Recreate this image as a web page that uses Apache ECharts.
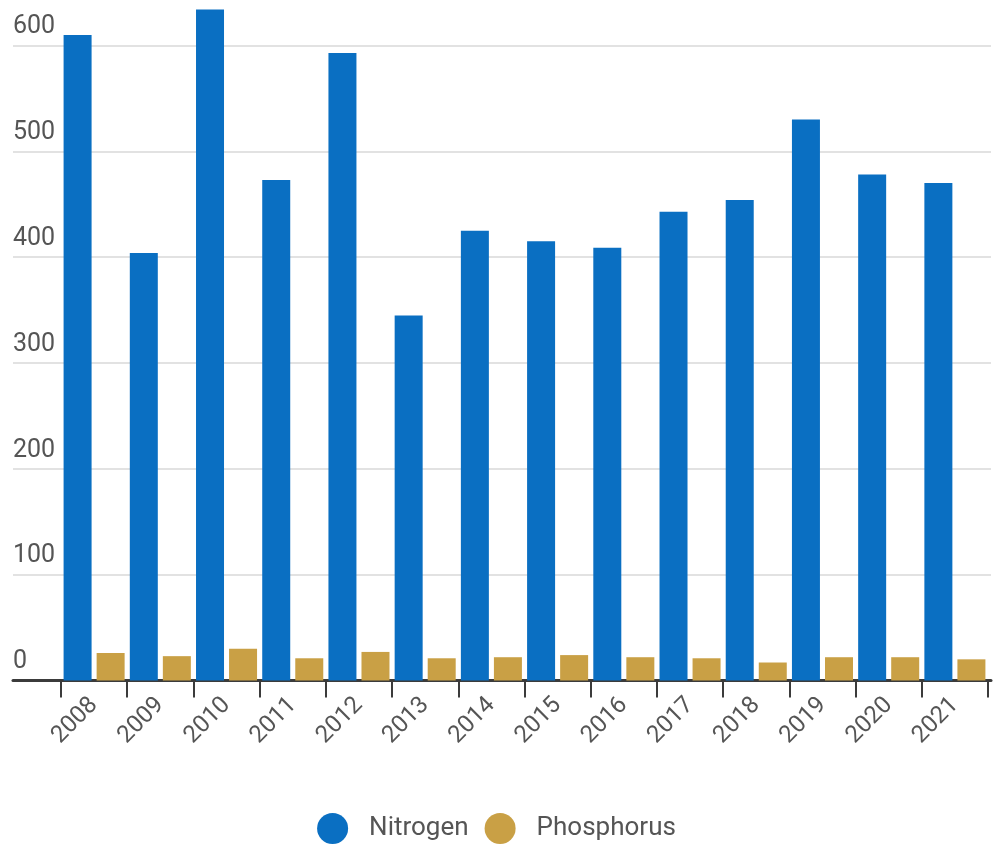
<!DOCTYPE html>
<html>
<head>
<meta charset="utf-8">
<script src="https://cdn.jsdelivr.net/npm/echarts@6/dist/echarts.min.js"></script>
<style>
  html, body { margin: 0; padding: 0; background: #ffffff; }
  #chart { width: 993px; height: 844px; }
</style>
</head>
<body>
<div id="chart"></div>
<script>
// Annual loads by year
const years = ['2008', '2009', '2010', '2011', '2012', '2013', '2014',
               '2015', '2016', '2017', '2018', '2019', '2020', '2021'];
const nitrogen = [610, 404, 634, 473, 593, 345, 425, 415, 409, 443, 454, 530, 478, 470];
const phosphorus = [26, 23, 30, 21, 27, 21, 22, 24, 22, 21, 17, 22, 22, 20];
const seriesNames = ['Nitrogen', 'Phosphorus'];
const yTicks = { min: 0, max: 600, interval: 100 };

const colors = ['#0a6fc2', '#c9a045'];
const axisDark = '#3b3b3b';
const textGray = '#555555';
const fontFamily = 'Roboto, "Noto Sans", sans-serif';

const chart = echarts.init(document.getElementById('chart'), null, { renderer: 'canvas' });

const plotTop = 45.5;
const plotBottom = 163.5;

chart.setOption({
  animation: false,
  backgroundColor: '#ffffff',
  textStyle: { fontFamily: fontFamily },
  grid: [
    // full-width frame: gridlines, value labels and the baseline
    { left: 13, right: 2, top: plotTop, bottom: plotBottom, containLabel: false },
    // bar area
    { left: 61, right: 5, top: plotTop, bottom: plotBottom, containLabel: false }
  ],
  xAxis: [
    {
      type: 'value', gridIndex: 0, min: 0, max: 1,
      axisLine: { show: true, onZero: false, lineStyle: { color: axisDark, width: 3 } },
      axisTick: { show: false }, axisLabel: { show: false }, splitLine: { show: false }
    },
    {
      type: 'category', gridIndex: 1, data: years, boundaryGap: true,
      axisLine: { show: true, lineStyle: { color: axisDark, width: 3 } },
      axisTick: { show: true, length: 17, alignWithLabel: false, lineStyle: { color: axisDark, width: 2 } },
      axisLabel: {
        rotate: 45, margin: 21, color: textGray, fontSize: 24,
        fontFamily: fontFamily, interval: 0
      }
    }
  ],
  yAxis: [
    {
      type: 'value', gridIndex: 0,
      min: yTicks.min, max: yTicks.max, interval: yTicks.interval,
      axisLine: { show: false }, axisTick: { show: false },
      splitLine: { show: true, lineStyle: { color: '#d9d9d9', width: 1.5 } },
      axisLabel: {
        inside: true, margin: 0, align: 'left', verticalAlign: 'bottom',
        padding: [0, 0, 6, 0],
        color: textGray, fontSize: 25, fontFamily: fontFamily
      }
    },
    {
      type: 'value', gridIndex: 1,
      min: yTicks.min, max: yTicks.max, interval: yTicks.interval,
      show: false, splitLine: { show: false }
    }
  ],
  legend: {
    data: seriesNames,
    top: 808, left: 'center',
    icon: 'circle', itemWidth: 31, itemHeight: 31, itemGap: 16,
    textStyle: { color: textGray, fontSize: 26, fontFamily: fontFamily, padding: [0, 0, 0, 16] }
  },
  series: [
    {
      name: seriesNames[0], type: 'bar', xAxisIndex: 1, yAxisIndex: 1,
      data: nitrogen, barWidth: 28, barGap: '18%', clip: false,
      itemStyle: { color: colors[0] }
    },
    {
      name: seriesNames[1], type: 'bar', xAxisIndex: 1, yAxisIndex: 1,
      data: phosphorus, barWidth: 28, barGap: '18%', clip: false,
      itemStyle: { color: colors[1] }
    }
  ]
});
</script>
</body>
</html>
